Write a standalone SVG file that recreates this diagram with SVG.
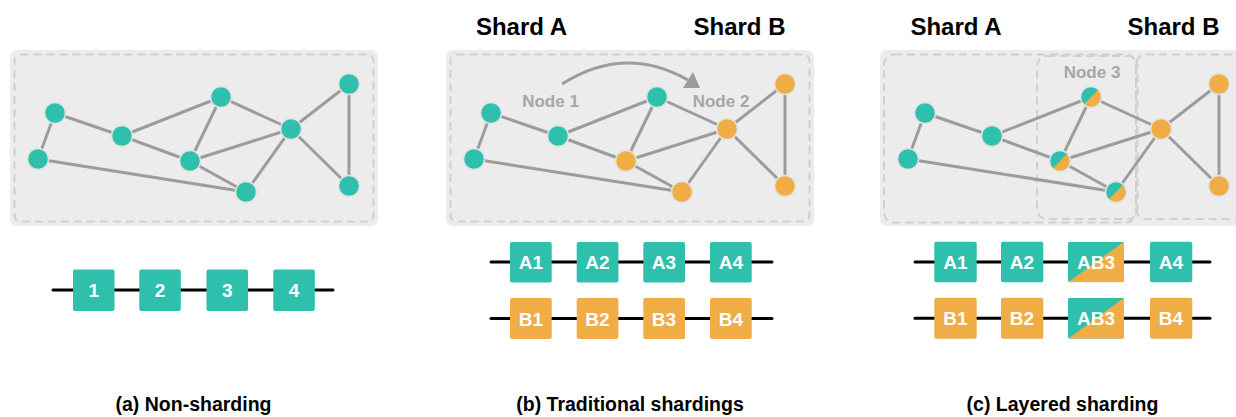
<svg xmlns="http://www.w3.org/2000/svg" xmlns:xlink="http://www.w3.org/1999/xlink" width="1236" height="417" viewBox="0 0 1236 417">
  <style>
    text { font-family: "Liberation Sans", Arial, Helvetica, sans-serif; font-weight: bold; text-anchor: middle; }
    .panel { fill: #ececec; }
    .dash { fill: none; stroke: #d0d0d0; stroke-width: 2; stroke-dasharray: 8 5; }
    .edge { stroke: #9c9c9c; stroke-width: 3; fill: none; }
    .teal { fill: #2ebfad; }
    .orange { fill: #f0ad45; }
    .node { stroke: #e2e2e2; stroke-width: 1.5; }
    .chain { stroke: #000; stroke-width: 3; stroke-linecap: round; }
    .box-label { fill: #fff; font-size: 19px; }
    .shard { fill: #000; font-size: 24px; }
    .hint { fill: #a6a6a6; font-size: 17px; }
    .caption { fill: #000; font-size: 19.5px; }
  </style>
  <defs>
    <!-- shared topology of the example graph -->
    <path id="edges" class="edge" d="M55,113 L38,159 M55,113 L122,136 M122,136 L221,97 M122,136 L190,161 M221,97 L190,161 M221,97 L291,129 M190,161 L291,129 M190,161 L246,192 M38,159 L246,192 M246,192 L291,129 M291,129 L349,84 M291,129 L349,186 M349,84 L349,186"/>
    <!-- node shared by both shards: teal upper-left, orange lower-right -->
    <g id="split">
      <circle r="10.5" class="teal"/>
      <path d="M7.42,-7.42 A10.5,10.5 0 0 1 -7.42,7.42 Z" class="orange"/>
      <circle r="10.5" fill="none" class="node"/>
    </g>
    <clipPath id="ab3clip-top"><rect x="1068" y="241.7" width="56" height="40.6" rx="2"/></clipPath>
    <clipPath id="ab3clip-bot"><rect x="1068" y="297.7" width="56" height="41" rx="2"/></clipPath>
  </defs>

  <!-- ===== (a) Non-sharding ===== -->
  <g id="panel-a">
    <rect class="panel" x="10" y="50" width="368" height="176" rx="7"/>
    <rect class="dash" x="14.5" y="54.5" width="359" height="167" rx="6"/>
    <g id="connectors-a"><use xlink:href="#edges" href="#edges"/></g>
    <g id="a-n1"><circle class="teal node" cx="55" cy="113" r="10.5"/></g>
    <g id="a-n2"><circle class="teal node" cx="38" cy="159" r="10.5"/></g>
    <g id="a-n3"><circle class="teal node" cx="122" cy="136" r="10.5"/></g>
    <g id="a-n4"><circle class="teal node" cx="221" cy="97" r="10.5"/></g>
    <g id="a-n5"><circle class="teal node" cx="190" cy="161" r="10.5"/></g>
    <g id="a-n6"><circle class="teal node" cx="246" cy="192" r="10.5"/></g>
    <g id="a-n7"><circle class="teal node" cx="291" cy="129" r="10.5"/></g>
    <g id="a-n8"><circle class="teal node" cx="349" cy="84" r="10.5"/></g>
    <g id="a-n9"><circle class="teal node" cx="349" cy="186" r="10.5"/></g>

    <g id="a-chain">
      <line class="chain" x1="53" y1="290" x2="333" y2="290"/>
      <g id="a-b1"><rect class="teal" x="73" y="269.5" width="41.5" height="41.5" rx="2"/><text class="box-label" x="93.7" y="297">1</text></g>
      <g id="a-b2"><rect class="teal" x="139.3" y="269.5" width="41.5" height="41.5" rx="2"/><text class="box-label" x="160" y="297">2</text></g>
      <g id="a-b3"><rect class="teal" x="206.5" y="269.5" width="41.5" height="41.5" rx="2"/><text class="box-label" x="227.3" y="297">3</text></g>
      <g id="a-b4"><rect class="teal" x="273.3" y="269.5" width="41.5" height="41.5" rx="2"/><text class="box-label" x="294" y="297">4</text></g>
    </g>
    <text class="caption" x="193.5" y="411">(a) Non-sharding</text>
  </g>

  <!-- ===== (b) Traditional shardings ===== -->
  <g id="panel-b">
    <text class="shard" x="521.5" y="35">Shard A</text>
    <text class="shard" x="739.5" y="35">Shard B</text>
    <rect class="panel" x="446" y="50" width="368" height="176" rx="7"/>
    <rect class="dash" x="450.5" y="54.5" width="359" height="167" rx="6"/>
    <g id="connectors-b">
      <use xlink:href="#edges" href="#edges" x="436"/>
      <!-- migration of a node from shard A to shard B -->
      <path class="edge" d="M562,84 Q625,44 688,80"/>
      <polygon points="683,88 700,88 693,72" fill="#9c9c9c"/>
    </g>
    <text class="hint" x="550.5" y="107">Node 1</text>
    <text class="hint" x="721" y="107">Node 2</text>
    <g id="b-n1"><circle class="teal node" cx="491" cy="113" r="10.5"/></g>
    <g id="b-n2"><circle class="teal node" cx="474" cy="159" r="10.5"/></g>
    <g id="b-n3"><circle class="teal node" cx="558" cy="136" r="10.5"/></g>
    <g id="b-n4"><circle class="teal node" cx="657" cy="97" r="10.5"/></g>
    <g id="b-n5"><circle class="orange node" cx="626" cy="161" r="10.5"/></g>
    <g id="b-n6"><circle class="orange node" cx="682" cy="192" r="10.5"/></g>
    <g id="b-n7"><circle class="orange node" cx="727" cy="129" r="10.5"/></g>
    <g id="b-n8"><circle class="orange node" cx="785" cy="84" r="10.5"/></g>
    <g id="b-n9"><circle class="orange node" cx="785" cy="186" r="10.5"/></g>

    <g id="b-chain-a">
      <line class="chain" x1="491" y1="262" x2="772" y2="262"/>
      <g id="b-a1"><rect class="teal" x="510" y="242" width="41.7" height="40.5" rx="2"/><text class="box-label" x="531" y="269">A1</text></g>
      <g id="b-a2"><rect class="teal" x="576.7" y="242" width="41.7" height="40.5" rx="2"/><text class="box-label" x="597.5" y="269">A2</text></g>
      <g id="b-a3"><rect class="teal" x="643.3" y="242" width="41.7" height="40.5" rx="2"/><text class="box-label" x="664" y="269">A3</text></g>
      <g id="b-a4"><rect class="teal" x="710" y="242" width="41.7" height="40.5" rx="2"/><text class="box-label" x="731" y="269">A4</text></g>
    </g>
    <g id="b-chain-b">
      <line class="chain" x1="491" y1="318.5" x2="772" y2="318.5"/>
      <g id="b-b1"><rect class="orange" x="510" y="298" width="41.7" height="41" rx="2"/><text class="box-label" x="531" y="325.5">B1</text></g>
      <g id="b-b2"><rect class="orange" x="576.7" y="298" width="41.7" height="41" rx="2"/><text class="box-label" x="597.5" y="325.5">B2</text></g>
      <g id="b-b3"><rect class="orange" x="643.3" y="298" width="41.7" height="41" rx="2"/><text class="box-label" x="664" y="325.5">B3</text></g>
      <g id="b-b4"><rect class="orange" x="710" y="298" width="41.7" height="41" rx="2"/><text class="box-label" x="731" y="325.5">B4</text></g>
    </g>
    <text class="caption" x="630" y="411">(b) Traditional shardings</text>
  </g>

  <!-- ===== (c) Layered sharding ===== -->
  <g id="panel-c">
    <text class="shard" x="956" y="35">Shard A</text>
    <text class="shard" x="1173.5" y="35">Shard B</text>
    <rect class="panel" x="880" y="50" width="380" height="176" rx="7"/>
    <g id="c-regions">
      <rect class="dash" x="884" y="54.5" width="252" height="168" rx="10"/>
      <rect class="dash" x="1037" y="56" width="100.5" height="163" rx="10"/>
      <rect class="dash" x="1136" y="54.5" width="130" height="164.5" rx="10"/>
    </g>
    <text class="hint" x="1092" y="78">Node 3</text>
    <g id="connectors-c"><use xlink:href="#edges" href="#edges" x="870"/></g>
    <g id="c-n1"><circle class="teal node" cx="925" cy="113" r="10.5"/></g>
    <g id="c-n2"><circle class="teal node" cx="908" cy="159" r="10.5"/></g>
    <g id="c-n3"><circle class="teal node" cx="992" cy="136" r="10.5"/></g>
    <g id="c-n4"><use xlink:href="#split" href="#split" x="1091" y="97"/></g>
    <g id="c-n5"><use xlink:href="#split" href="#split" x="1060" y="161"/></g>
    <g id="c-n6"><use xlink:href="#split" href="#split" x="1116" y="192"/></g>
    <g id="c-n7"><circle class="orange node" cx="1161" cy="129" r="10.5"/></g>
    <g id="c-n8"><circle class="orange node" cx="1219" cy="84" r="10.5"/></g>
    <g id="c-n9"><circle class="orange node" cx="1219" cy="186" r="10.5"/></g>

    <g id="c-chain-a">
      <line class="chain" x1="915" y1="262" x2="1210" y2="262"/>
      <g id="c-a1"><rect class="teal" x="934.3" y="241.7" width="42.4" height="40.6" rx="2"/><text class="box-label" x="955.5" y="269">A1</text></g>
      <g id="c-a2"><rect class="teal" x="1001" y="241.7" width="42.3" height="40.6" rx="2"/><text class="box-label" x="1022" y="269">A2</text></g>
      <g id="c-ab3-top">
        <g clip-path="url(#ab3clip-top)">
          <rect class="teal" x="1068" y="241.7" width="56" height="40.6"/>
          <polygon class="orange" points="1068,282.3 1124,282.3 1124,241.7"/>
        </g>
        <text class="box-label" x="1096" y="269">AB3</text>
      </g>
      <g id="c-a4"><rect class="teal" x="1150" y="241.7" width="42.3" height="40.6" rx="2"/><text class="box-label" x="1171" y="269">A4</text></g>
    </g>
    <g id="c-chain-b">
      <line class="chain" x1="915" y1="318.3" x2="1210" y2="318.3"/>
      <g id="c-b1"><rect class="orange" x="934.3" y="297.7" width="42.4" height="41" rx="2"/><text class="box-label" x="955.5" y="325.3">B1</text></g>
      <g id="c-b2"><rect class="orange" x="1001" y="297.7" width="42.3" height="41" rx="2"/><text class="box-label" x="1022" y="325.3">B2</text></g>
      <g id="c-ab3-bot">
        <g clip-path="url(#ab3clip-bot)">
          <rect class="teal" x="1068" y="297.7" width="56" height="41"/>
          <polygon class="orange" points="1068,338.7 1124,338.7 1124,297.7"/>
        </g>
        <text class="box-label" x="1096" y="325.3">AB3</text>
      </g>
      <g id="c-b4"><rect class="orange" x="1150" y="297.7" width="42.3" height="41" rx="2"/><text class="box-label" x="1171" y="325.3">B4</text></g>
    </g>
    <text class="caption" x="1062.5" y="411">(c) Layered sharding</text>
  </g>
</svg>
